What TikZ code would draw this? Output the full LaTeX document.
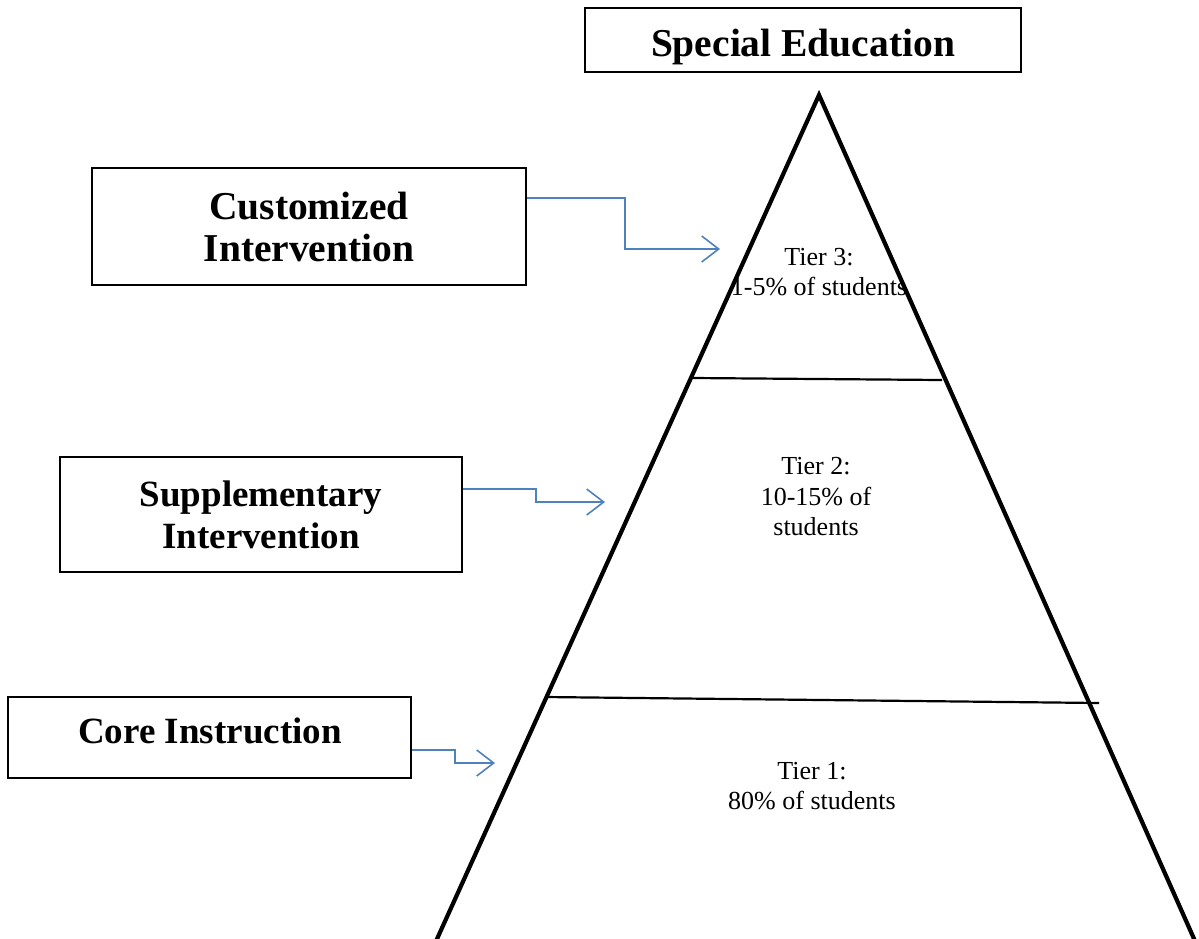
\documentclass[tikz,border=0pt]{standalone}
\usepackage{fontspec}
\setmainfont{Liberation Serif}
\usetikzlibrary{arrows.meta,calc}
\definecolor{arrowblue}{HTML}{4F81BD}
\begin{document}
\begin{tikzpicture}[x=1pt,y=-1pt,
  headbox/.style={draw=black,line width=1.5pt,inner sep=0pt,align=center,
    font=\fontsize{37}{42}\selectfont\bfseries},
  widehead/.style={font=\fontsize{39.5}{42}\selectfont\bfseries},
  tiertext/.style={align=center,font=\fontsize{26}{30.5}\selectfont,inner sep=0pt},
  conn/.style={draw=arrowblue,line width=1.6pt,-{Straight Barb[length=17pt,width=26pt,line width=1.6pt]}},
  pyr/.style={line width=4.2pt,line join=miter},
  divider/.style={line width=2.2pt}]
\useasboundingbox (0,0) rectangle (1199,938);
\clip (0,0) rectangle (1199,938);
% pyramid
\coordinate (apex) at (819,95);
\coordinate (bl) at (432,950);
\coordinate (br) at (1199,950);
\draw[pyr] (bl) -- (apex) -- (br);
\coordinate (d1l) at (693,378);
\coordinate (d1r) at (942,380);
\coordinate (d2l) at (545,697);
\coordinate (d2r) at (1099,703);
\draw[divider] (d1l) -- (d1r);
\draw[divider] (d2l) -- (d2r);
% tier texts
\node[tiertext] (t3) at (819,272) {Tier 3:\\1-5\% of students};
\node[tiertext] (t2) at (816,497) {Tier 2:\\10-15\% of\\students};
\node[tiertext] (t1) at (812,786) {Tier 1:\\80\% of students};
% boxes
\node[headbox,widehead,minimum width=436pt,minimum height=64pt,text depth=0pt] (spec) at (803,40) {\raisebox{-5pt}{Special Education}};
\node[headbox,widehead,minimum width=434pt,minimum height=117pt] (cust) at (309,226.5) {Customized\\Intervention};
\node[headbox,minimum width=402pt,minimum height=115pt] (supp) at (261,514.5) {Supplementary\\Intervention};
\node[draw=black,line width=1.5pt,inner sep=0pt,minimum width=403pt,minimum height=81pt] (core) at (209.5,737.5) {};
\node[font=\fontsize{37}{42}\selectfont\bfseries,inner sep=0pt] (coretext) at (210,731) {Core Instruction};
% connectors
\coordinate (c1) at (720,249);
\coordinate (c2) at (605,502);
\coordinate (c3) at (495,763);
\draw[conn] (cust.east |- 0,198) -- (625,198) -- (625,249) -- (c1);
\draw[conn] (supp.east |- 0,489) -- (536,489) -- (536,502) -- (c2);
\draw[conn] (core.east |- 0,750) -- (455,750) -- (455,763) -- (c3);
\end{tikzpicture}
\end{document}
